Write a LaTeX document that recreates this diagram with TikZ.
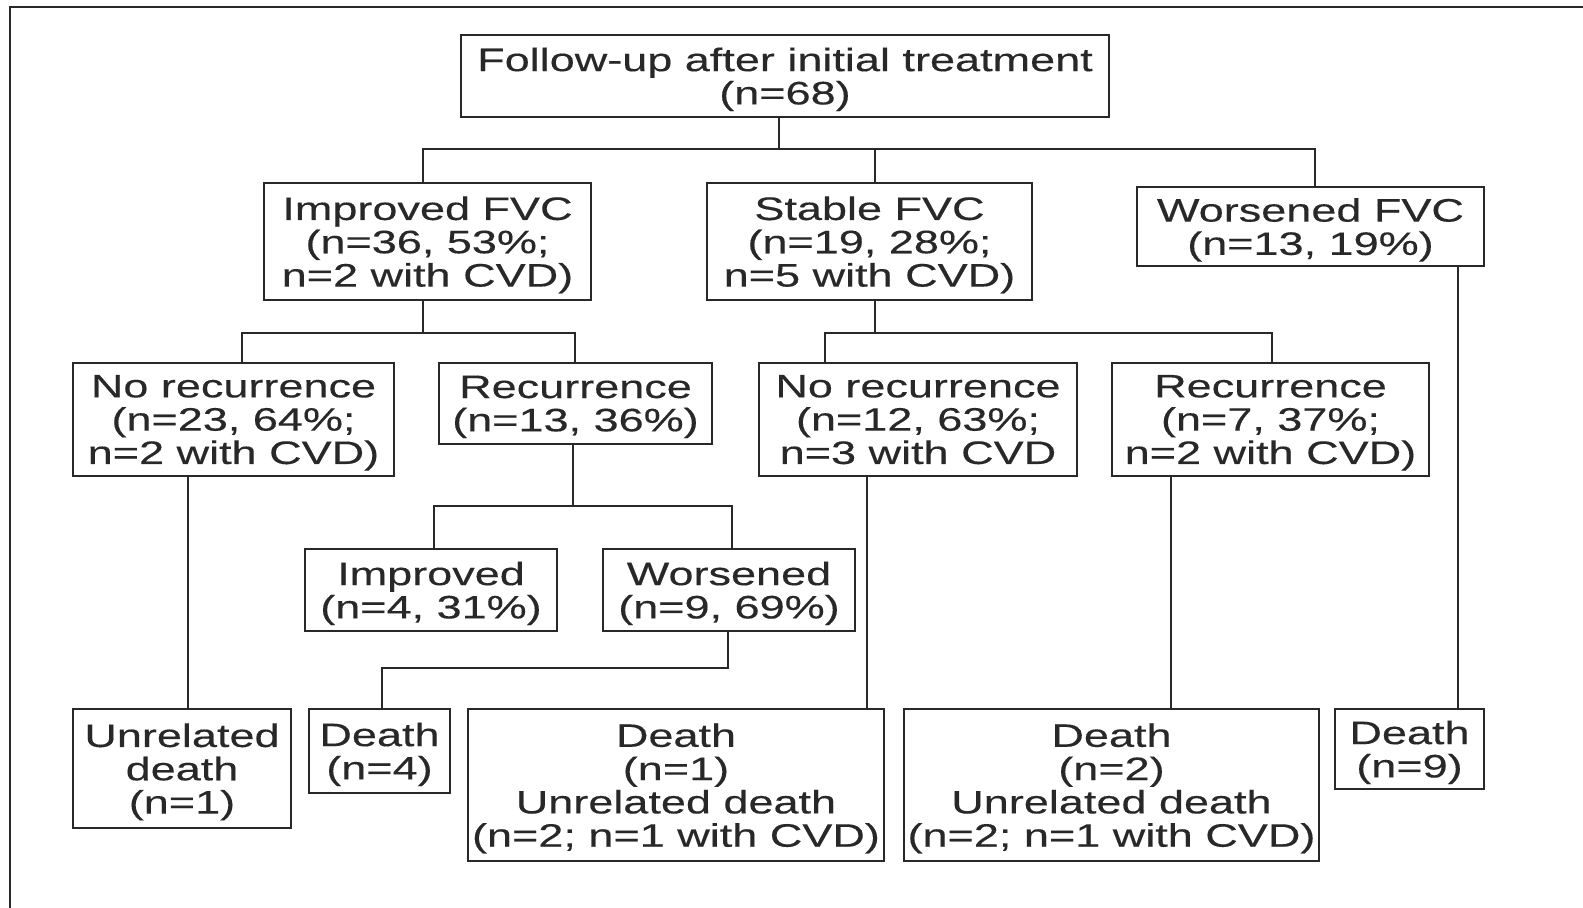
\documentclass[tikz,border=0pt]{standalone}
\usepackage{fontspec}
\setmainfont{Liberation Sans}[FakeStretch=1.385,FakeBold=0.3]
\usepackage{xcolor}
\usepackage{tikz}
\usetikzlibrary{positioning}
\definecolor{ink}{RGB}{40,40,40}
\tikzstyle{box} = [draw=ink, text=ink, line width=1.2pt, rectangle, inner sep=0pt, align=center, text depth=-1pt, font=\fontsize{18.5}{18.95}\selectfont]
\tikzstyle{link} = [draw=ink, line width=1.2pt]

\begin{document}
\begin{tikzpicture}
		\useasboundingbox (0,0) rectangle (31.66,18.16);
		\coordinate (follow) at (15.70,16.64);
		\coordinate (impfvc) at (8.55,13.33);
		\coordinate (stafvc) at (17.39,13.33);
		\coordinate (worfvc) at (26.21,13.63);
		\coordinate (norecA) at (4.67,9.77);
		\coordinate (recA) at (11.51,10.09);
		\coordinate (norecB) at (18.36,9.77);
		\coordinate (recB) at (25.41,9.77);
		\coordinate (impr) at (8.62,6.36);
		\coordinate (wors) at (14.58,6.36);
		\coordinate (unrel) at (3.64,2.79);
		\coordinate (deathA) at (7.59,3.14);
		\coordinate (deathB) at (13.52,2.46);
		\coordinate (deathC) at (22.23,2.46);
		\coordinate (deathD) at (28.19,3.18);
		% Frame (only top and left edge fall inside)
		\draw[link] (0.2,0) -- (0.2,18.02) -- (31.66,18.02);
		% Boxes
		\begin{scope}[every node/.style={box}]
		\node[name=follow, minimum width=12.96cm, minimum height=1.64cm] at (follow) {Follow-up after initial treatment\\(n=68)};
		\node[name=impfvc, minimum width=6.54cm, minimum height=2.34cm] at (impfvc) {Improved FVC\\(n=36, 53\%;\\n=2 with CVD)};
		\node[name=stafvc, minimum width=6.50cm, minimum height=2.34cm] at (stafvc) {Stable FVC\\(n=19, 28\%;\\n=5 with CVD)};
		\node[name=worfvc, minimum width=6.94cm, minimum height=1.58cm] at (worfvc) {Worsened FVC\\(n=13, 19\%)};
		\node[name=norecA, minimum width=6.42cm, minimum height=2.26cm] at (norecA) {No recurrence\\(n=23, 64\%;\\n=2 with CVD)};
		\node[name=recA, minimum width=5.46cm, minimum height=1.62cm] at (recA) {Recurrence\\(n=13, 36\%)};
		\node[name=norecB, minimum width=6.36cm, minimum height=2.26cm] at (norecB) {No recurrence\\(n=12, 63\%;\\n=3 with CVD};
		\node[name=recB, minimum width=6.34cm, minimum height=2.26cm] at (recB) {Recurrence\\(n=7, 37\%;\\n=2 with CVD)};
		\node[name=impr, minimum width=5.04cm, minimum height=1.64cm] at (impr) {Improved\\(n=4, 31\%)};
		\node[name=wors, minimum width=5.04cm, minimum height=1.64cm] at (wors) {Worsened\\(n=9, 69\%)};
		\node[name=unrel, minimum width=4.36cm, minimum height=2.38cm] at (unrel) {Unrelated\\death\\(n=1)};
		\node[name=deathA, minimum width=2.82cm, minimum height=1.68cm] at (deathA) {Death\\(n=4)};
		\node[name=deathB, minimum width=8.32cm, minimum height=3.04cm] at (deathB) {Death\\(n=1)\\Unrelated death\\(n=2; n=1 with CVD)};
		\node[name=deathC, minimum width=8.30cm, minimum height=3.04cm] at (deathC) {Death\\(n=2)\\Unrelated death\\(n=2; n=1 with CVD)};
		\node[name=deathD, minimum width=2.98cm, minimum height=1.60cm] at (deathD) {Death\\(n=9)};
		\end{scope}
		% Junctions
		\coordinate (busA) at (15.58,15.18);
		\coordinate (busA1) at (8.46,15.18);
		\coordinate (busA2) at (17.50,15.18);
		\coordinate (busA3) at (26.30,15.18);
		\coordinate (busB) at (8.46,11.50);
		\coordinate (busB1) at (4.84,11.50);
		\coordinate (busB2) at (11.50,11.50);
		\coordinate (busC) at (17.50,11.50);
		\coordinate (busC1) at (16.50,11.50);
		\coordinate (busC2) at (25.44,11.50);
		\coordinate (busD) at (11.46,8.04);
		\coordinate (busD1) at (8.68,8.04);
		\coordinate (busD2) at (14.64,8.04);
		\coordinate (busE) at (14.56,4.80);
		\coordinate (busE1) at (7.64,4.80);
		\coordinate (dropA) at (3.76,0);
		\coordinate (dropB) at (17.34,0);
		\coordinate (dropC) at (23.42,0);
		\coordinate (dropD) at (29.16,0);
		% FVC split
		\draw[link] (follow.south -| busA) -- (busA);
		\draw[link] (impfvc.north -| busA1) -- (busA1) -- (busA3) -- (worfvc.north -| busA3);
		\draw[link] (stafvc.north -| busA2) -- (busA2);
		% Recurrence split
		\draw[link] (impfvc.south -| busB) -- (busB);
		\draw[link] (norecA.north -| busB1) -- (busB1) -- (busB2) -- (recA.north -| busB2);
		\draw[link] (stafvc.south -| busC) -- (busC);
		\draw[link] (norecB.north -| busC1) -- (busC1) -- (busC2) -- (recB.north -| busC2);
		\draw[link] (recA.south -| busD) -- (busD);
		\draw[link] (impr.north -| busD1) -- (busD1) -- (busD2) -- (wors.north -| busD2);
		% Outcomes
		\draw[link] (wors.south -| busE) -- (busE) -- (busE1) -- (deathA.north -| busE1);
		\draw[link] (norecA.south -| dropA) -- (unrel.north -| dropA);
		\draw[link] (norecB.south -| dropB) -- (deathB.north -| dropB);
		\draw[link] (recB.south -| dropC) -- (deathC.north -| dropC);
		\draw[link] (worfvc.south -| dropD) -- (deathD.north -| dropD);
\end{tikzpicture}
\end{document}
